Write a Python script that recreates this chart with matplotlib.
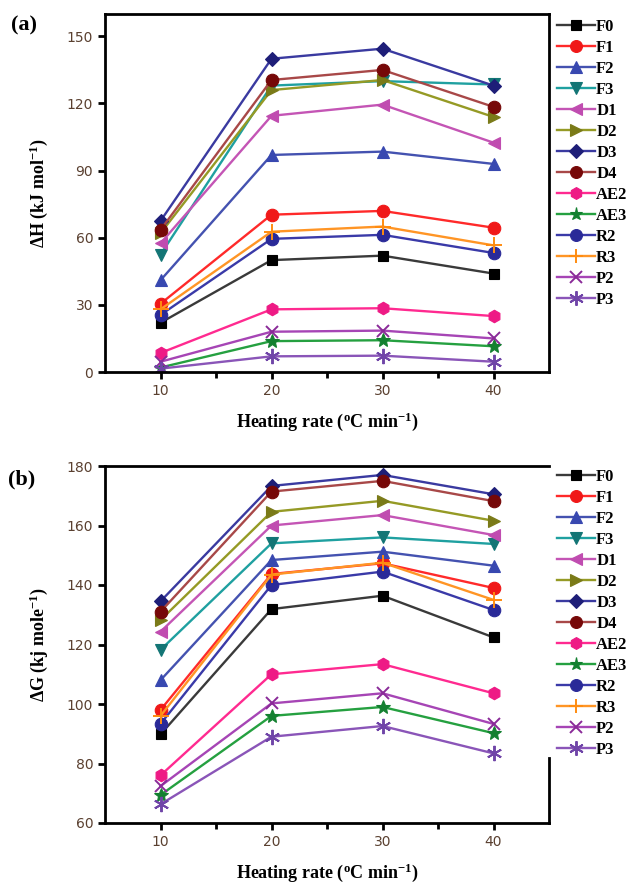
import numpy as np
import matplotlib
matplotlib.use('Agg')
import matplotlib.pyplot as plt

plt.rcParams['mathtext.fontset'] = 'custom'
plt.rcParams['mathtext.rm'] = 'Liberation Serif'
plt.rcParams['mathtext.bf'] = 'Liberation Serif:bold'
plt.rcParams['mathtext.it'] = 'Liberation Serif:italic'

rates = [10, 20, 30, 40]
names = ['F0', 'F1', 'F2', 'F3', 'D1', 'D2', 'D3', 'D4',
         'AE2', 'AE3', 'R2', 'R3', 'P2', 'P3']

# enthalpy (kJ/mol)
dH = {
    'F0': [22, 50, 52, 44],
    'F1': [30.5, 70.3, 72, 64.5],
    'F2': [41, 97, 98.5, 93],
    'F3': [52.5, 128, 130, 128.5],
    'D1': [57.5, 114.5, 119.5, 102.5],
    'D2': [62, 126, 130.5, 114],
    'D3': [67.5, 140, 144.5, 128],
    'D4': [63.5, 130.5, 135, 118.5],
    'AE2': [8.5, 28, 28.5, 25],
    'AE3': [2, 13.8, 14.2, 11.5],
    'R2': [25.5, 59.5, 61.3, 53.2],
    'R3': [28, 62.7, 65, 56.6],
    'P2': [4.6, 18, 18.5, 15],
    'P3': [1.5, 7, 7.3, 4.6],
}

# free energy (kJ/mol)
dG = {
    'F0': [89.8, 131.9, 136.4, 122.4],
    'F1': [98, 143.7, 147.3, 139],
    'F2': [108, 148.4, 151.2, 146.5],
    'F3': [118.2, 154, 156, 153.8],
    'D1': [124.3, 160, 163.5, 156.8],
    'D2': [128.2, 164.6, 168.3, 161.6],
    'D3': [134.5, 173.3, 177, 170.5],
    'D4': [131, 171.4, 175, 168.2],
    'AE2': [76, 110, 113.4, 103.6],
    'AE3': [69.4, 96, 99, 90.2],
    'R2': [93.3, 140, 144.5, 131.6],
    'R3': [96, 143.5, 147.5, 135],
    'P2': [72.4, 100.2, 103.6, 93.3],
    'P3': [66.3, 89, 92.6, 83.4],
}

line_cols = {'F0': '#3a3a3a', 'F1': '#ff2a2a', 'F2': '#4452b0', 'F3': '#1fa0a0',
             'D1': '#c455b5', 'D2': '#959a25', 'D3': '#3a3aa0', 'D4': '#a84848',
             'AE2': '#ff2a90', 'AE3': '#25a040', 'R2': '#3a3aa8', 'R3': '#ff9525',
             'P2': '#a645b5', 'P3': '#8a55b8'}
mark_cols = {'F0': '#000000', 'F1': '#f01818', 'F2': '#3848b0', 'F3': '#137575',
             'D1': '#c04cb0', 'D2': '#7a7a18', 'D3': '#1e1e78', 'D4': '#760808',
             'AE2': '#ee1a85', 'AE3': '#138030', 'R2': '#2a2a98', 'R3': '#ff8c10',
             'P2': '#8a2a98', 'P3': '#7045a8'}
markers = {'F0': 's', 'F1': 'o', 'F2': '^', 'F3': 'v', 'D1': '<', 'D2': '>',
           'D3': 'D', 'D4': 'o', 'AE2': 'h', 'AE3': '*', 'R2': 'o', 'R3': '+',
           'P2': 'x', 'P3': (6, 2, 0)}
msizes = {'D3': 7.5, 'AE3': 10, 'R3': 11, 'P2': 9, 'P3': 11, 'F0': 7.5}

serif = 'Liberation Serif'
tick_col = '#5a4030'
fig = plt.figure(figsize=(6.29, 8.85), dpi=100)
ax1 = fig.add_axes([105 / 629, 1 - 372 / 885, 444 / 629, 358 / 885])
ax2 = fig.add_axes([105 / 629, 1 - 823 / 885, 444 / 629, 357 / 885])


def draw(ax, data, ylim, yticks, ylabel, leg_top):
    for n in names:
        mk = markers[n]
        ms = msizes.get(n, 9)
        ax.plot(rates, data[n], color=line_cols[n], lw=1.7, marker=mk, ms=ms,
                mfc=mark_cols[n], mec=mark_cols[n],
                mew=1.4 if mk in ['+', 'x', (6, 2, 0)] else 0.8, label=n)
    ax.set_xlim(5, 45)
    ax.set_ylim(*ylim)
    ax.set_xticks(rates)
    ax.set_xticks([15, 25, 35], minor=True)
    ax.set_yticks(yticks)
    ax.tick_params(which='both', direction='out', length=5, width=2,
                   labelsize=10, labelcolor=tick_col)
    ax.tick_params(which='minor', length=4)
    for s in ax.spines.values():
        s.set_linewidth(2)
    ax.set_xlabel('Heating rate ($^{\\mathbf{o}}$C min$^{\\mathbf{-1}}$)',
                  fontfamily=serif, fontweight='bold', fontsize=13, labelpad=9)
    ax.set_ylabel(ylabel, fontfamily=serif, fontweight='bold', fontsize=13,
                  labelpad=12)
    leg = ax.legend(loc='upper left', bbox_to_anchor=(557 / 629, leg_top),
                    bbox_transform=fig.transFigure, frameon=False,
                    prop={'family': serif, 'weight': 'bold', 'size': 12},
                    handlelength=2.3, handletextpad=0.05, labelspacing=0.30,
                    borderpad=0, borderaxespad=0, markerscale=0.95)
    return leg


draw(ax1, dH, (0, 160), [0, 30, 60, 90, 120, 150],
     '$\\mathbf{\\Delta}$H (kJ mol$^{\\mathbf{-1}}$)', 1 - 19 / 885)
draw(ax2, dG, (60, 180), [60, 80, 100, 120, 140, 160, 180],
     '$\\mathbf{\\Delta}$G (kj mole$^{\\mathbf{-1}}$)', 1 - 469 / 885)

# panel (b) right frame is only drawn near the bottom
ax2.spines['right'].set_bounds(60, 82)

fig.text(0.018, 1 - 25 / 885, '(a)', fontfamily=serif, fontweight='bold',
         fontsize=16, va='center')
fig.text(0.012, 1 - 479 / 885, '(b)', fontfamily=serif, fontweight='bold',
         fontsize=16, va='center')

plt.savefig('out.png', dpi=100)
